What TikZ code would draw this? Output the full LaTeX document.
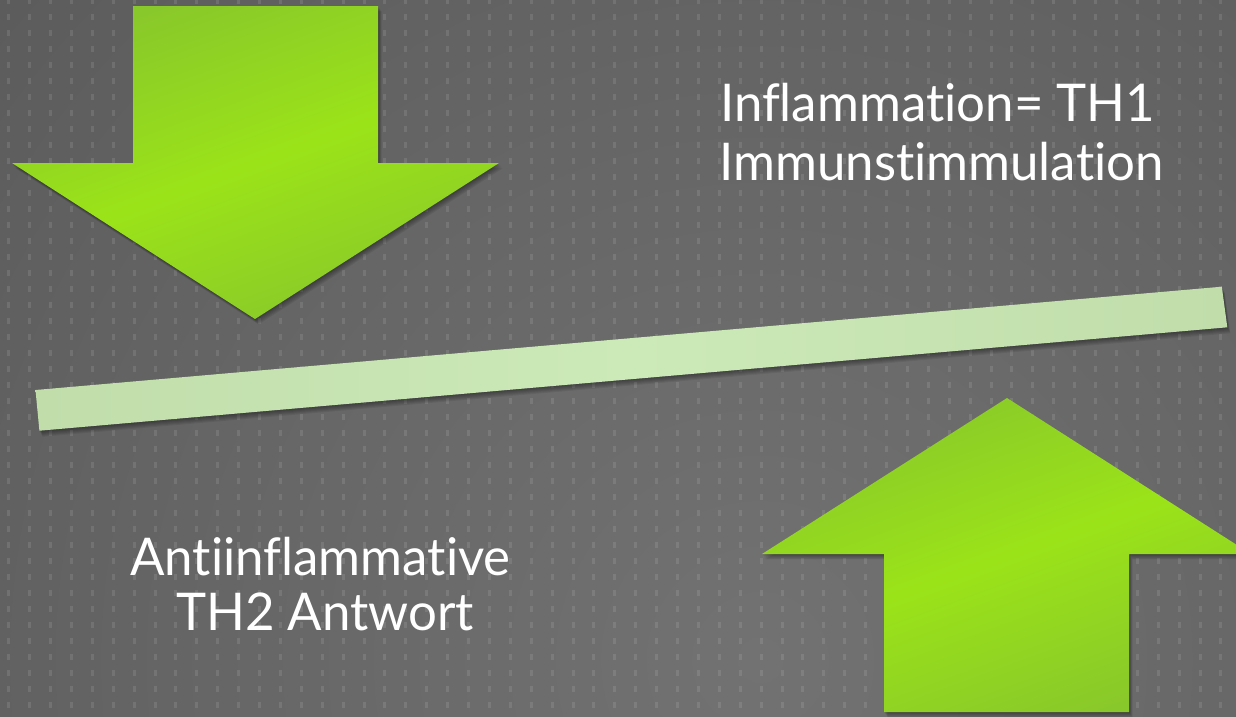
\documentclass[tikz,border=0pt]{standalone}
\usepackage{fontspec}
\setmainfont[FakeStretch=0.98, Ligatures=NoCommon]{Lato}
\definecolor{bgdark}{HTML}{464646}
\definecolor{bglight}{HTML}{727272}
\definecolor{gdark}{HTML}{89C82A}
\definecolor{gbright}{HTML}{9BE319}
\definecolor{bardark}{HTML}{C0DDAA}
\definecolor{barlight}{HTML}{CCEAB8}
\tikzset{
  greenarrow/.style={left color=gdark, right color=gdark, middle color=gbright, shading angle=20},
  lightbar/.style={left color=bardark, right color=bardark, middle color=barlight},
  shadowlayer/.style={fill=black, opacity=0.07},
  dotmark/.style={fill=white, opacity=0.1},
  labeltext/.style={text=white, inner sep=0pt, anchor=base, font=\fontsize{52}{58}\selectfont}
}
\newcommand\downarrowshape{(133,6) -- (378,6) -- (378,163) -- (499,163) -- (255,319) -- (12,163) -- (133,163) -- cycle}
\newcommand\uparrowshape{(1007,398) -- (1251,554) -- (1129,554) -- (1129,712) -- (884,712) -- (884,554) -- (762,554) -- cycle}
\newcommand\barshape{(35.5,390) -- (1221.8,286.7) -- (1227.3,327.3) -- (39.4,430.7) -- cycle}
\begin{document}
\begin{tikzpicture}[x=1pt,y=-1pt]
\useasboundingbox (0,0) rectangle (1236,716);
\begin{scope}
\clip (0,0) rectangle (1236,716);
% background
\fill[bgdark] (0,0) rectangle (1236,716);
\shade[inner color=bglight, outer color=bgdark] (760,660) circle [radius=2000pt];
% dot grid
\foreach \i in {0,...,59} {
  \foreach \j in {0,...,45} {
    \fill[dotmark] ({7.2+20.9*\i},{-1.8+16*\j}) rectangle ++(3,5.6);
  }
}
% shadows
\foreach \k in {1,...,6} {
  \fill[shadowlayer, shift={(\k*0.6,\k*0.9)}] \downarrowshape;
  \fill[shadowlayer, shift={(\k*0.6,\k*0.9)}] \uparrowshape;
  \fill[shadowlayer, shift={(\k*0.5,\k*1.0)}] \barshape;
}
% shapes
\shade[greenarrow] \downarrowshape;
\shade[greenarrow] \uparrowshape;
\shade[lightbar] \barshape;
\end{scope}
% texts
\node[labeltext] (t1) at (937.6,121) {Inflammation= TH1};
\node[labeltext] (t2) at (941.5,180) {Immunstimmulation};
\node[labeltext] (t3) at (320.5,575.5) {Antiinflammative};
\node[labeltext] (t4) at (325,630.5) {TH2 Antwort};
\end{tikzpicture}
\end{document}
